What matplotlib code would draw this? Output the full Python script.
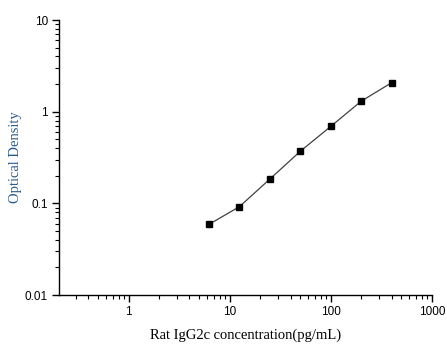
import matplotlib
matplotlib.use('Agg')
import matplotlib.pyplot as plt
from matplotlib.ticker import LogLocator, FixedLocator, FixedFormatter, NullFormatter

# 標準曲線資料
conc = [6.25, 12.5, 25, 50, 100, 200, 400]
od = [0.059, 0.092, 0.184, 0.37, 0.69, 1.30, 2.07]

x_ticks = [1, 10, 100, 1000]
x_labels = ['1', '10', '100', '1000']
y_ticks = [0.01, 0.1, 1, 10]
y_labels = ['0.01', '0.1', '1', '10']

fig = plt.figure(figsize=(4.47, 3.51), dpi=100)
ax = fig.add_axes([0.132, 0.1595, 0.834, 0.7835])

ax.plot(conc, od, color='#404040', linewidth=0.9)
ax.plot(conc, od, linestyle='none', marker='s', markersize=4.5, color='black')

ax.set_xscale('log')
ax.set_yscale('log')
ax.set_xlim(0.205, 1000)
ax.set_ylim(0.01, 10)

ax.xaxis.set_major_locator(FixedLocator(x_ticks))
ax.xaxis.set_major_formatter(FixedFormatter(x_labels))
ax.yaxis.set_major_locator(FixedLocator(y_ticks))
ax.yaxis.set_major_formatter(FixedFormatter(y_labels))
ax.xaxis.set_minor_locator(LogLocator(base=10, subs=range(2, 10), numticks=20))
ax.yaxis.set_minor_locator(LogLocator(base=10, subs=range(2, 10), numticks=20))
ax.xaxis.set_minor_formatter(NullFormatter())
ax.yaxis.set_minor_formatter(NullFormatter())

for s in ['top', 'right']:
    ax.spines[s].set_visible(False)
for s in ['left', 'bottom']:
    ax.spines[s].set_linewidth(1.0)

ax.tick_params(which='major', direction='out', length=5, width=1,
               labelsize=8.5, pad=3)
ax.tick_params(which='minor', direction='out', length=3, width=0.8)
for lab in ax.get_xticklabels() + ax.get_yticklabels():
    lab.set_fontfamily('Liberation Sans')

ax.set_xlabel('Rat IgG2c concentration(pg/mL)', fontfamily='Liberation Serif',
              fontsize=10.5)
ax.set_ylabel('Optical Density', fontfamily='Liberation Serif',
              fontsize=10.5, color='#2b5c8a')
ax.xaxis.set_label_coords(0.5, -0.12)
ax.yaxis.set_label_coords(-0.098, 0.5)

fig.savefig('out.png', dpi=100)
